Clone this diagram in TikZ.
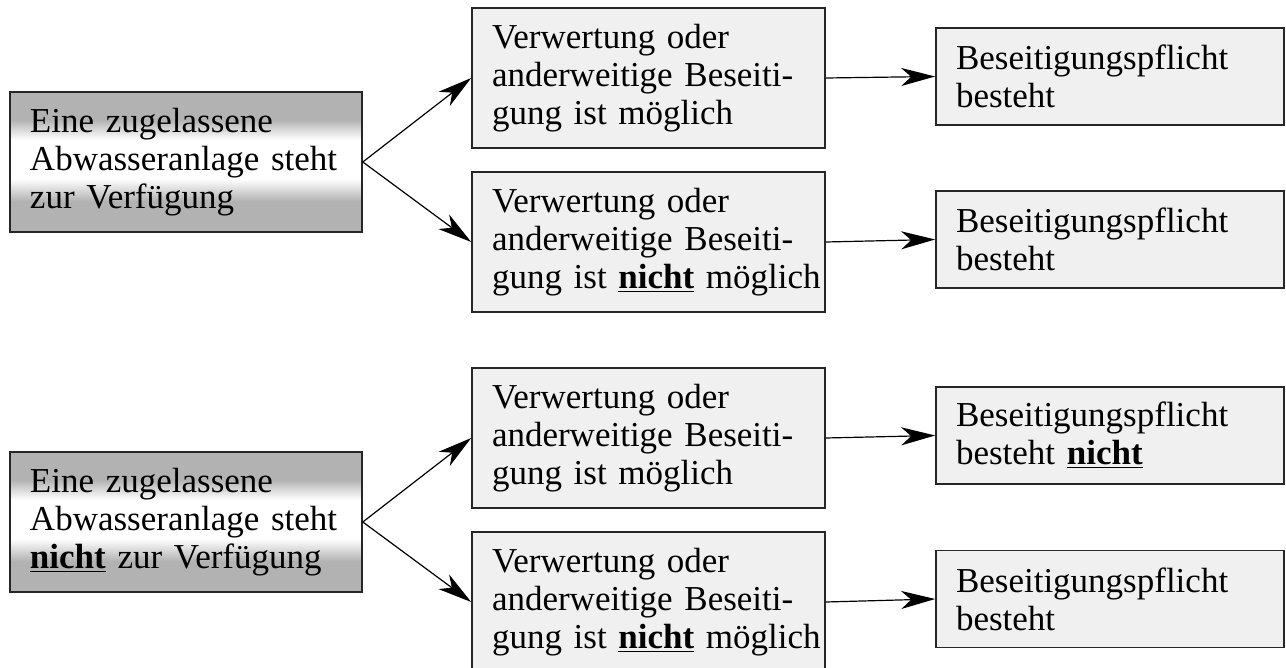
\documentclass[tikz,border=0pt]{standalone}
\usepackage{fontspec}
\setmainfont{Liberation Serif}
\usetikzlibrary{arrows.meta}

% grey top and bottom, white band in the middle
\pgfdeclareverticalshading{sourceshade}{100bp}{color(0bp)=(black!30); color(36bp)=(black!30); color(44bp)=(white); color(58bp)=(white); color(65bp)=(black!30); color(100bp)=(black!30)}

\begin{document}
\begin{tikzpicture}[
            x=0.5pt, y=-0.5pt,
            font=\fontsize{17.5}{19}\selectfont,
            >={Stealth[length=17pt, width=9pt, inset=5pt]},
            every node/.style={align=left, draw=black!85, line width=0.8pt, inner xsep=10pt, inner ysep=0pt},
            sourcebox/.style={shading=sourceshade, text width=156pt, minimum height=70pt},
            casebox/.style={fill=black!6, text width=156.5pt, minimum height=70pt},
            resultbox/.style={fill=black!6, text width=154pt, minimum height=48.5pt},
            link/.style={->, line width=0.6pt}
        ]

        % Column positions
        \def\xsrc{186}      % Source boxes
        \def\xcase{648.5}   % Case boxes
        \def\xres{1110}     % Result boxes

        \useasboundingbox (0,0) rectangle (1286,668);

        % --- Group: Anlage steht zur Verfügung ---
        \node[sourcebox] (srcI) at (\xsrc, 162) {Eine zugelassene\\Abwasseranlage steht\\zur Verfügung};

        \node[casebox] (caseI) at (\xcase, 78) {Verwertung oder\\anderweitige Beseiti-\\gung ist möglich};
        \node[casebox] (caseII) at (\xcase, 242) {Verwertung oder\\anderweitige Beseiti-\\\mbox{gung ist \underline{\textbf{nicht}} möglich}};

        \node[resultbox] (resI) at (\xres, 76.5) {Beseitigungspflicht\\besteht};
        \node[resultbox] (resII) at (\xres, 239.5) {Beseitigungspflicht\\besteht};

        \draw[link] (srcI.east) -- (caseI.west);
        \draw[link] (srcI.east) -- (caseII.west);
        \draw[link] (caseI.east) -- (resI.west);
        \draw[link] (caseII.east) -- (resII.west);

        % --- Group: Anlage steht nicht zur Verfügung ---
        \node[sourcebox] (srcII) at (\xsrc, 522) {Eine zugelassene\\Abwasseranlage steht\\\underline{\textbf{nicht}} zur Verfügung};

        \node[casebox] (caseIII) at (\xcase, 438) {Verwertung oder\\anderweitige Beseiti-\\gung ist möglich};
        \node[casebox] (caseIV) at (\xcase, 602) {Verwertung oder\\anderweitige Beseiti-\\\mbox{gung ist \underline{\textbf{nicht}} möglich}};

        \node[resultbox] (resIII) at (\xres, 435.5) {Beseitigungspflicht\\besteht \underline{\textbf{nicht}}};
        \node[resultbox] (resIV) at (\xres, 599) {Beseitigungspflicht\\besteht};

        \draw[link] (srcII.east) -- (caseIII.west);
        \draw[link] (srcII.east) -- (caseIV.west);
        \draw[link] (caseIII.east) -- (resIII.west);
        \draw[link] (caseIV.east) -- (resIV.west);

        \end{tikzpicture}
\end{document}
